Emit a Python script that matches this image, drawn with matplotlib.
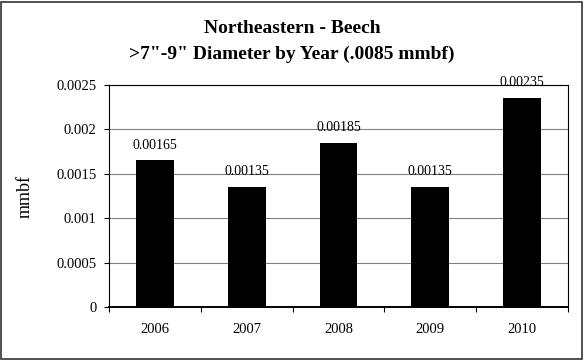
import matplotlib
matplotlib.use("Agg")
import matplotlib.pyplot as plt
from matplotlib.patches import Rectangle

years = ["2006", "2007", "2008", "2009", "2010"]
values = [0.00165, 0.00135, 0.00185, 0.00135, 0.00235]
value_labels = ["0.00165", "0.00135", "0.00185", "0.00135", "0.00235"]
yticks = [0, 0.0005, 0.001, 0.0015, 0.002, 0.0025]
ytick_labels = ["0", "0.0005", "0.001", "0.0015", "0.002", "0.0025"]

plt.rcParams['font.family'] = ['Liberation Serif', 'DejaVu Serif']

fig = plt.figure(figsize=(5.84, 3.6), dpi=100)
W, H = 584, 360
L, R, T, B = 109, 568, 85, 307
ax = fig.add_axes([L / W, 1 - B / H, (R - L) / W, (B - T) / H])

x = list(range(len(years)))
ax.bar(x, values, width=0.41, color='black', zorder=3)
for xi, v, lab in zip(x, values, value_labels):
    ax.annotate(lab, (xi, v), xytext=(0, 8.6), textcoords='offset points',
                ha='center', va='baseline', fontsize=10, zorder=4)

ax.set_xlim(-0.5, len(years) - 0.5)
ax.set_ylim(0, 0.0025)
ax.set_yticks(yticks)
ax.set_yticklabels(ytick_labels, fontsize=10.5)
ax.yaxis.grid(True, color='#808080', linewidth=0.8, zorder=0)
ax.set_xticks(x)
ax.set_xticklabels(years, fontsize=10.5)
ax.tick_params(axis='x', length=0, pad=11.5)
ax.set_xticks([i - 0.5 for i in range(len(years) + 1)], minor=True)
ax.tick_params(axis='x', which='minor', length=3.5, direction='out', width=0.8)
ax.tick_params(axis='y', length=3.6, direction='out', width=0.8, pad=5.5)
for s in ax.spines.values():
    s.set_color('black')
    s.set_linewidth(0.8)
ax.spines['bottom'].set_linewidth(1.4)
ax.set_ylabel("mmbf", fontsize=13)
ax.yaxis.set_label_coords((34 - L) / (R - L), 0.5)

fig.text(0.5, 1 - 33 / H, "Northeastern - Beech",
         ha='center', va='baseline', fontsize=14, fontweight='bold')
fig.text(0.5, 1 - 59 / H, ">7\"-9\" Diameter by Year (.0085 mmbf)",
         ha='center', va='baseline', fontsize=14, fontweight='bold')

fig.patches.append(Rectangle((1 / W, 1 / H), 1 - 3 / W, 1 - 3 / H,
                             transform=fig.transFigure, fill=False,
                             edgecolor='#333333', linewidth=1.2))

fig.savefig("out.png", dpi=100)
